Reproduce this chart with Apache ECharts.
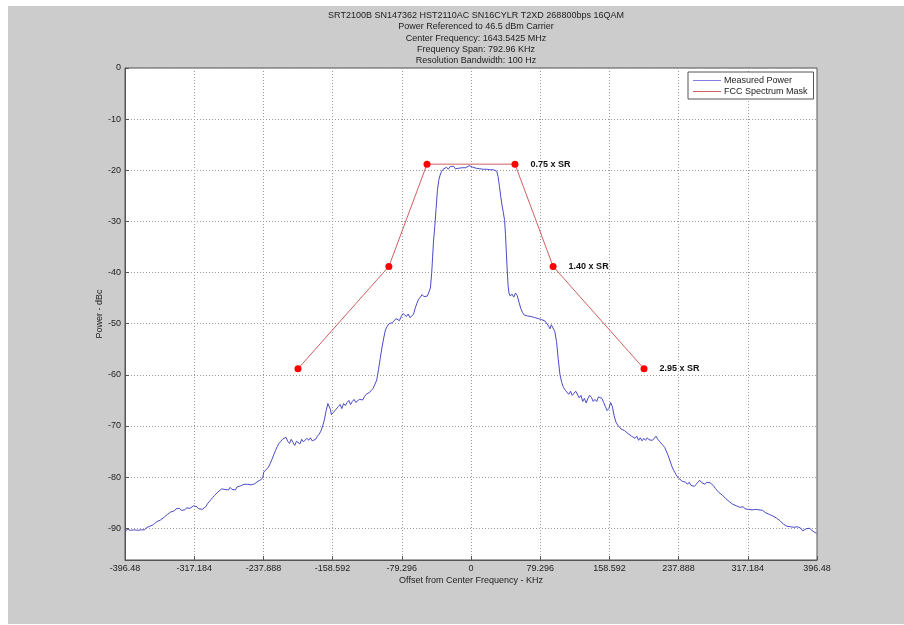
<!DOCTYPE html>
<html>
<head>
<meta charset="utf-8">
<script src="https://cdn.jsdelivr.net/npm/echarts@6/dist/echarts.min.js"></script>
<style>
html,body{margin:0;padding:0;background:#ffffff;}
#bg{position:absolute;left:8px;top:6px;width:896px;height:618px;background:#cccccc;}
#chart{position:absolute;left:0;top:0;width:904px;height:625px;}
</style>
</head>
<body>
<div id="bg"></div>
<div id="chart"></div>
<script>
var titleLines = [
  'SRT2100B SN147362 HST2110AC SN16CYLR T2XD 268800bps 16QAM',
  'Power Referenced to 46.5 dBm Carrier',
  'Center Frequency: 1643.5425 MHz',
  'Frequency Span: 792.96 KHz',
  'Resolution Bandwidth: 100 Hz'
];
var xTicks = [-396.48, -317.184, -237.888, -158.592, -79.296, 0, 79.296, 158.592, 237.888, 317.184, 396.48];
var xTickLabels = ['-396.48', '-317.184', '-237.888', '-158.592', '-79.296', '0', '79.296', '158.592', '237.888', '317.184', '396.48'];
var yTicks = [0, -10, -20, -30, -40, -50, -60, -70, -80, -90];

var maskX = [-198.24, -94.08, -50.4, 50.4, 94.08, 198.24];
var maskY = [-58.8, -38.8, -18.8, -18.8, -38.8, -58.8];
var maskLabels = ['', '', '', '0.75 x SR', '1.40 x SR', '2.95 x SR'];

var measured = [
[-396,-90.6],[-394,-90.2],[-392,-90.0],[-390,-90.4],[-388,-90.1],[-386,-90.3],[-384,-90.0],[-382,-90.4],[-380,-90.1],[-378,-90.3],
[-376,-90.0],[-374,-90.3],[-372,-89.9],[-370,-90.1],[-368,-89.6],[-366,-89.8],[-364,-89.3],[-362,-89.1],[-360,-88.7],[-358,-88.9],
[-356,-88.4],[-354,-88.2],[-352,-87.9],[-350,-87.6],[-348,-87.3],[-346,-87.0],[-344,-86.8],[-342,-86.5],[-340,-86.6],[-338,-86.2],
[-336,-86.4],[-334,-86.1],[-332,-86.5],[-330,-86.2],[-328,-86.4],[-326,-86.0],[-324,-86.3],[-322,-86.1],[-320,-85.8],[-318,-85.6],
[-316,-85.5],[-314,-85.8],[-312,-86.2],[-310,-86.0],[-308,-86.3],[-306,-86.4],[-304,-85.8],[-302,-85.2],[-300,-84.8],[-298,-84.4],
[-296,-84.0],[-294,-83.6],[-292,-83.3],[-290,-82.9],[-288,-82.6],[-286,-82.3],[-284,-82.0],[-282,-82.4],[-280,-82.1],[-278,-82.5],
[-276,-82.0],[-274,-82.4],[-272,-82.1],[-270,-82.5],[-268,-81.9],[-266,-82.1],[-264,-81.7],[-262,-81.5],[-260,-81.4],[-258,-81.2],
[-256,-81.4],[-254,-81.2],[-252,-81.5],[-250,-81.6],[-248,-81.3],[-246,-81.0],[-244,-80.8],[-242,-80.6],[-240,-80.4],[-238.5,-80.0],
[-237.5,-79.0],[-236,-78.8],[-234,-78.4],[-232,-78.0],[-230,-77.3],[-228,-76.5],[-226,-75.6],[-224,-74.8],[-222,-74.0],[-220,-73.4],
[-218,-73.0],[-216,-72.6],[-214,-72.4],[-212,-72.2],[-210,-73.0],[-208,-73.4],[-206,-72.6],[-204,-73.2],[-202,-73.8],[-200,-73.0],
[-198,-72.8],[-196,-73.5],[-194,-72.6],[-192,-73.1],[-190,-72.9],[-188,-72.4],[-186,-72.8],[-184,-72.3],[-182,-72.9],[-180,-73.0],
[-178,-72.6],[-176,-72.0],[-174,-71.6],[-172,-71.0],[-170,-70.0],[-168,-68.8],[-166,-67.0],[-164,-65.6],[-163,-65.3],[-162,-65.8],
[-161,-66.8],[-160,-67.8],[-158,-67.5],[-156,-67.0],[-154,-66.8],[-152,-66.2],[-150,-65.8],[-148,-66.6],[-146,-65.6],[-144,-66.0],
[-142,-65.4],[-140,-65.0],[-138,-65.8],[-136,-65.2],[-134,-64.8],[-132,-65.4],[-130,-65.6],[-128,-64.8],[-126,-64.5],[-124,-64.9],
[-122,-64.2],[-120,-63.8],[-118,-63.6],[-116,-63.4],[-114,-63.0],[-112,-62.6],[-110,-62.3],[-108,-61.0],[-106,-59.0],[-104,-56.8],
[-102,-54.6],[-100,-52.8],[-98,-51.2],[-96,-50.5],[-94,-50.0],[-92,-50.3],[-90,-49.8],[-88,-49.5],[-86,-49.0],[-84,-48.8],
[-82,-49.4],[-80,-48.6],[-78,-48.0],[-76,-47.7],[-74,-48.6],[-72,-48.1],[-70,-48.8],[-68,-48.6],[-66,-48.2],[-64,-47.0],
[-62,-46.0],[-60,-45.2],[-58,-44.8],[-56,-44.3],[-54,-44.7],[-52,-44.4],[-50,-44.6],[-48,-44.4],[-46.5,-43.0],[-45,-40.0],
[-44,-37.0],[-43,-34.0],[-41.5,-31.0],[-40,-27.5],[-38.5,-24.0],[-37,-22.0],[-35.5,-21.0],[-34,-20.3],[-32,-19.8],[-30,-19.6],
[-28,-19.4],[-26,-19.8],[-24,-19.3],[-22,-19.6],[-20,-19.2],[-18,-19.7],[-16,-19.4],[-14,-19.6],[-12,-19.3],[-10,-19.5],
[-8,-19.2],[-6,-19.5],[-4,-19.3],[-2,-19.1],[0,-19.0],[2,-19.4],[4,-19.3],[6,-19.6],[8,-19.4],[10,-19.7],
[12,-19.5],[14,-19.8],[16,-19.6],[18,-19.8],[20,-19.7],[22,-19.9],[24,-19.8],[26,-19.9],[28,-19.9],[29.5,-20.2],
[31,-21.2],[32.5,-23.0],[34,-25.0],[35.5,-26.8],[37,-28.2],[38.5,-29.8],[39.5,-32.5],[40.5,-36.0],[41.5,-39.5],[42.5,-42.5],
[43.5,-44.0],[45,-44.6],[47,-44.2],[49,-44.8],[51,-44.0],[53,-44.5],[55,-45.8],[57,-47.0],[59,-47.8],[61,-48.3],
[63,-48.0],[65,-48.5],[67,-48.2],[69,-48.6],[71,-48.4],[73,-48.8],[75,-48.5],[77,-49.0],[79,-48.8],[81,-49.2],
[83,-49.0],[85,-49.5],[87,-49.8],[89,-50.5],[90.5,-51.0],[92,-50.2],[94,-49.9],[96,-51.5],[98,-53.5],[100,-57.0],
[102,-60.0],[104,-61.5],[106,-62.5],[108,-63.0],[110,-63.3],[112,-63.8],[114,-63.2],[116,-64.0],[118,-63.6],[120,-63.2],
[122,-63.4],[124,-64.5],[126,-64.0],[128,-65.2],[130,-64.6],[132,-65.5],[134,-64.6],[136,-64.0],[138,-64.4],[140,-65.2],
[142,-64.8],[144,-65.2],[146,-64.3],[148,-64.0],[150,-64.6],[152,-65.4],[154,-66.2],[156,-67.0],[158,-66.6],[160,-65.4],
[162,-66.2],[164,-68.0],[166,-69.2],[168,-69.8],[170,-70.0],[172,-70.6],[174,-70.4],[176,-70.9],[178,-71.0],[180,-71.5],
[182,-71.2],[184,-72.0],[186,-71.8],[188,-72.4],[190,-72.0],[192,-72.8],[194,-72.3],[196,-72.9],[198,-72.4],[200,-72.8],
[202,-72.3],[204,-72.7],[206,-72.4],[208,-72.8],[210,-72.5],[212,-72.0],[214,-72.6],[216,-73.0],[218,-73.3],[220,-73.8],
[222,-74.2],[224,-74.5],[226,-75.8],[228,-76.8],[230,-77.8],[232,-78.6],[234,-79.2],[236,-79.8],[238,-80.2],[240,-80.4],
[242,-80.8],[244,-80.6],[246,-81.0],[248,-81.4],[250,-81.0],[252,-81.6],[254,-81.3],[256,-81.8],[258,-81.4],[260,-81.0],
[262,-80.6],[264,-81.0],[266,-80.8],[268,-81.4],[270,-81.0],[272,-81.3],[274,-81.1],[276,-81.4],[278,-81.7],[280,-82.2],
[282,-82.6],[284,-83.0],[286,-83.3],[288,-83.5],[290,-83.8],[292,-84.2],[294,-84.5],[296,-84.8],[298,-85.0],[300,-85.3],
[302,-85.2],[304,-85.6],[306,-85.8],[308,-85.9],[310,-86.2],[312,-85.8],[314,-86.2],[316,-86.0],[318,-86.3],[320,-86.0],
[322,-86.4],[324,-86.1],[326,-86.3],[328,-86.0],[330,-86.4],[332,-86.3],[334,-86.5],[336,-86.8],[338,-87.0],[340,-87.1],
[342,-87.3],[344,-87.4],[346,-87.6],[348,-87.8],[350,-88.0],[352,-88.3],[354,-88.5],[356,-88.8],[358,-89.2],[360,-89.4],
[362,-89.6],[364,-89.5],[366,-89.7],[368,-89.5],[370,-89.8],[372,-89.6],[374,-89.7],[376,-89.5],[378,-90.0],[380,-90.5],
[382,-90.3],[384,-90.1],[386,-89.8],[388,-90.0],[390,-90.3],[392,-90.6],[394,-90.9],[396,-91.0]
];

var maskData = maskX.map(function (x, i) {
  return {
    value: [x, maskY[i]],
    label: { show: maskLabels[i] !== '', formatter: maskLabels[i] }
  };
});

var FONT = '"Liberation Sans", Arial, sans-serif';
var chart = echarts.init(document.getElementById('chart'));
chart.setOption({
  animation: false,
  backgroundColor: 'transparent',
  textStyle: { fontFamily: FONT },
  title: {
    text: titleLines.join('\n'),
    left: 471,
    top: 5,
    textAlign: 'center',
    textStyle: { fontFamily: FONT, fontSize: 9, fontWeight: 'normal', color: '#222', lineHeight: 11.3 }
  },
  grid: {
    left: 125, top: 68, right: 87, bottom: 65,
    show: true, backgroundColor: '#ffffff', borderColor: '#555', borderWidth: 1
  },
  legend: {
    orient: 'vertical',
    left: 688, top: 72,
    padding: [4, 6, 3, 5],
    itemGap: 2,
    itemWidth: 28,
    itemHeight: 1,
    backgroundColor: '#ffffff',
    borderColor: '#555',
    borderWidth: 1,
    borderRadius: 0,
    textStyle: { fontFamily: FONT, fontSize: 9, color: '#222', padding: [0, 0, 0, -2] },
    data: [
      { name: 'Measured Power', icon: 'rect', itemStyle: { color: '#8080e0' } },
      { name: 'FCC Spectrum Mask', icon: 'rect', itemStyle: { color: '#d06060' } }
    ]
  },
  xAxis: {
    type: 'value',
    min: -396.48, max: 396.48, interval: 79.296,
    name: 'Offset from Center Frequency - KHz',
    nameLocation: 'middle', nameGap: 16, nameMoveOverlap: false,
    nameTextStyle: { fontFamily: FONT, fontSize: 9, color: '#222' },
    axisLine: { show: true, onZero: false, lineStyle: { color: '#555' } },
    axisTick: { show: true, inside: true, length: 4, customValues: xTicks, lineStyle: { color: '#555' } },
    axisLabel: {
      customValues: xTicks, margin: 4, fontSize: 9, color: '#222', fontFamily: FONT,
      formatter: function (v) {
        for (var i = 0; i < xTicks.length; i++) { if (Math.abs(xTicks[i] - v) < 1e-3) return xTickLabels[i]; }
        return '';
      }
    },
    splitLine: { show: true, lineStyle: { color: '#999', type: [1, 2], width: 1 } }
  },
  yAxis: {
    type: 'value',
    min: -96.2, max: 0,
    name: 'Power - dBc',
    nameLocation: 'middle', nameGap: 21, nameMoveOverlap: false,
    nameTextStyle: { fontFamily: FONT, fontSize: 9, color: '#222' },
    axisLine: { show: true, onZero: false, lineStyle: { color: '#555' } },
    axisTick: { show: true, inside: true, length: 4, customValues: yTicks, lineStyle: { color: '#555' } },
    axisLabel: { customValues: yTicks, margin: 4, fontSize: 9, color: '#222', fontFamily: FONT },
    splitLine: { show: true, lineStyle: { color: '#999', type: [1, 2], width: 1 } }
  },
  series: [
    {
      name: 'Measured Power',
      type: 'line',
      data: measured,
      showSymbol: false,
      symbol: 'none',
      lineStyle: { color: '#4a4ac8', width: 1 },
      itemStyle: { color: '#4a4ac8' },
      z: 3
    },
    {
      name: 'FCC Spectrum Mask',
      type: 'line',
      data: maskData,
      symbol: 'circle',
      symbolSize: 7,
      lineStyle: { color: '#d06060', width: 1 },
      itemStyle: { color: '#ff0000' },
      label: { position: 'right', distance: 12, fontFamily: FONT, fontSize: 9, fontWeight: 'bold', color: '#111' },
      z: 4
    }
  ]
});
</script>
</body>
</html>
